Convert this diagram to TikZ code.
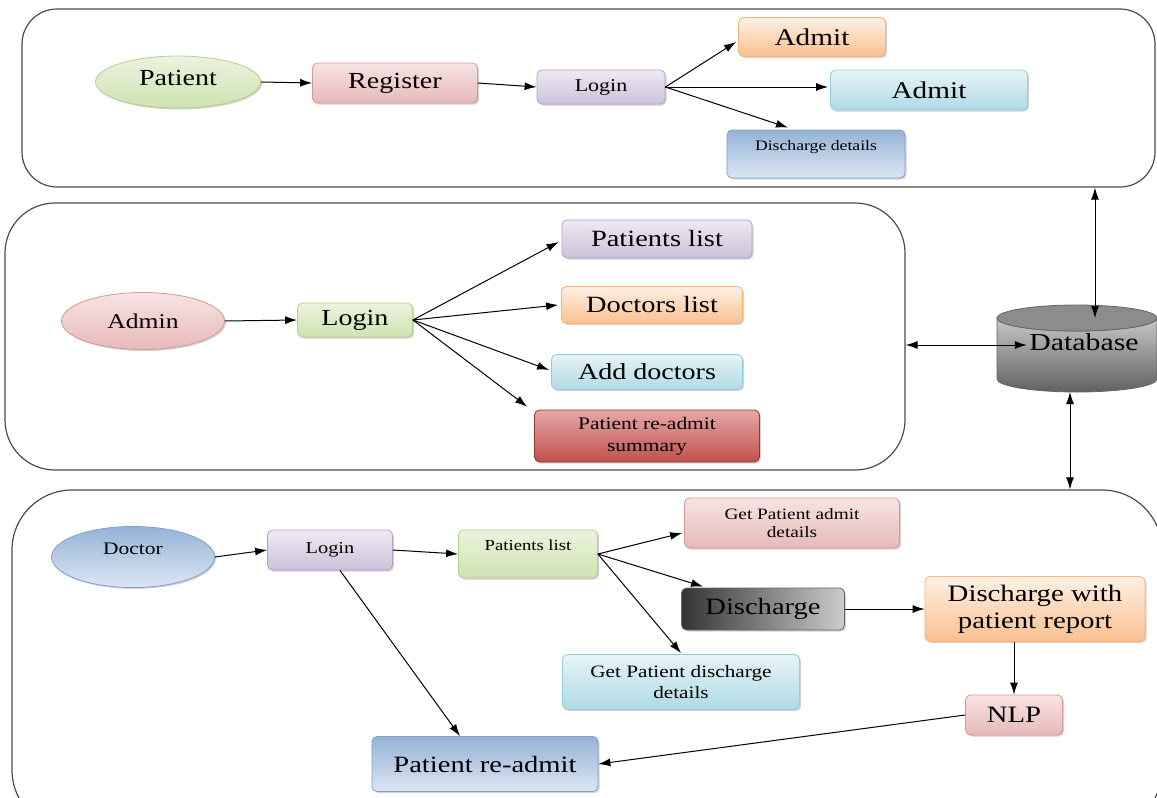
\documentclass[tikz,border=0pt]{standalone}
\usepackage{fontspec}
\setmainfont{Liberation Serif}[FakeStretch=1.22]
\usetikzlibrary{shapes.geometric,arrows.meta,shadows,calc}
\newcommand\fsz[2]{\fontsize{#1}{#2}\selectfont}
\definecolor{grnA}{HTML}{EBF3DF}\definecolor{grnB}{HTML}{CFE3B0}\definecolor{grnD}{HTML}{B5D08A}
\definecolor{pnkA}{HTML}{F7E4E3}\definecolor{pnkB}{HTML}{E6B9B8}\definecolor{pnkD}{HTML}{D99694}
\definecolor{purA}{HTML}{EEEAF3}\definecolor{purB}{HTML}{CCC1DA}\definecolor{purD}{HTML}{B3A2C7}
\definecolor{orgA}{HTML}{FEF0E4}\definecolor{orgB}{HTML}{FAC090}\definecolor{orgD}{HTML}{F9B27A}
\definecolor{cyaA}{HTML}{E6F4F7}\definecolor{cyaB}{HTML}{B0DAE5}\definecolor{cyaD}{HTML}{93CDDD}
\definecolor{bluA}{HTML}{DCE6F2}\definecolor{bluB}{HTML}{95B3D7}\definecolor{bluD}{HTML}{7F9FCF}
\definecolor{redA}{HTML}{E6A8A6}\definecolor{redB}{HTML}{C0504D}\definecolor{redD}{HTML}{943634}
\begin{document}
\begin{tikzpicture}[x=1pt,y=-1pt,
  container/.style={draw=black!70, line width=1.2pt, rounded corners=#1, inner sep=0pt},
  box/.style={rectangle, rounded corners=5pt, line width=0.8pt, align=center, inner sep=2pt,
    drop shadow={shadow xshift=1.5pt, shadow yshift=-1.5pt, opacity=0.35}},
  oval/.style={ellipse, line width=0.8pt, align=center, inner sep=0pt,
    drop shadow={shadow xshift=1.5pt, shadow yshift=-1.5pt, opacity=0.35}},
  green/.style={draw=grnD, top color=grnA, bottom color=grnB},
  pink/.style={draw=pnkD, top color=pnkA, bottom color=pnkB},
  purple/.style={draw=purD, top color=purA, bottom color=purB},
  orange/.style={draw=orgD, top color=orgA, bottom color=orgB},
  cyan/.style={draw=cyaD, top color=cyaA, bottom color=cyaB},
  blue/.style={draw=bluD, top color=bluB, bottom color=bluA},
  arr/.style={-{Latex[length=12pt,width=8pt]}, line width=1pt},
  darr/.style={{Latex[length=12pt,width=8pt]}-{Latex[length=12pt,width=8pt]}, line width=1pt}]
\useasboundingbox (0,0) rectangle (1157,798);

% containers
\node[container=35pt, minimum width=1133pt, minimum height=178pt] (topbox) at (588.5,98) {};
\node[container=50pt, minimum width=900pt, minimum height=267pt] (midbox) at (455,336.5) {};
\node[container=60pt, minimum width=1150pt, minimum height=340pt] (botbox) at (587,660) {};

% top row
\node[oval, green, minimum width=165pt, minimum height=52pt, text height=16pt, text depth=9pt, font=\fsz{23}{25}] (patient) at (178,82) {Patient};
\node[box, pink, minimum width=165pt, minimum height=40pt, font=\fsz{23}{25}] (register) at (395,83) {Register};
\node[box, purple, minimum width=128pt, minimum height=34pt, font=\fsz{18}{20}] (login1) at (601,87) {Login};
\node[box, orange, minimum width=147pt, minimum height=39pt, font=\fsz{24}{26}] (admit1) at (812,37) {Admit};
\node[box, cyan, minimum width=197pt, minimum height=40pt, font=\fsz{24}{26}] (admit2) at (929,90) {Admit};
\node[box, blue, minimum width=178pt, minimum height=48pt, text height=11pt, text depth=19pt, font=\fsz{14.5}{16}] (disch) at (816,154) {Discharge details};

% middle row
\node[oval, pink, minimum width=163pt, minimum height=57pt, font=\fsz{21}{23}] (admin) at (143,321) {Admin};
\node[box, green, minimum width=115pt, minimum height=34pt, font=\fsz{23}{25}] (login2) at (355,320) {Login};
\node[box, purple, minimum width=190pt, minimum height=38pt, font=\fsz{23.3}{25}] (plist) at (657,239) {Patients list};
\node[box, orange, minimum width=181pt, minimum height=37pt, font=\fsz{23.3}{25}] (dlist) at (652,305) {Doctors list};
\node[box, cyan, minimum width=191pt, minimum height=35pt, font=\fsz{23}{25}] (adddoc) at (647,372) {Add doctors};
\node[box, draw=redD, top color=redA, bottom color=redB, minimum width=225pt, minimum height=52pt, font=\fsz{17.6}{22}] (summary) at (647,436) {Patient re-admit\\summary};

% database (cylinder drawn directly, label node on top)
\shade[top color=black!22, bottom color=black!62, draw=black!60, line width=0.8pt]
  (997,318) -- (997,379) arc[start angle=180, end angle=0, x radius=80, y radius=13] -- (1157,318) arc[start angle=0, end angle=180, x radius=80, y radius=13] -- cycle;
\draw[black!60, line width=0.8pt, fill=black!45] (1077,318) ellipse [x radius=80, y radius=13];
\node[minimum width=110pt, minimum height=40pt, inner sep=0pt, font=\fsz{24.4}{26}] (db) at (1084,342) {Database};

% bottom row
\node[oval, blue, minimum width=163pt, minimum height=61pt, text height=13pt, text depth=19pt, font=\fsz{17.6}{19}] (doctor) at (133,557) {Doctor};
\node[box, purple, minimum width=125pt, minimum height=40pt, font=\fsz{16.7}{18}] (login3) at (330,550) {Login};
\node[box, green, minimum width=139pt, minimum height=48pt, text height=11pt, text depth=19pt, font=\fsz{15.3}{17}] (plist3) at (528,554) {Patients list};
\node[box, pink, minimum width=215pt, minimum height=50pt, font=\fsz{15.8}{18}] (getadmit) at (792,523) {Get Patient admit\\details};
\node[box, draw=black!60, left color=black!80, right color=black!20, minimum width=163pt, minimum height=42pt, font=\fsz{23.4}{25}] (discharge) at (763,609) {Discharge};
\node[box, orange, minimum width=220pt, minimum height=65pt, font=\fsz{23.6}{27}] (dwpr) at (1035,609) {Discharge with\\patient report};
\node[box, cyan, minimum width=237pt, minimum height=55pt, font=\fsz{17.4}{21}] (getdisch) at (681,682) {Get Patient discharge\\details};
\node[box, pink, minimum width=97pt, minimum height=40pt, font=\fsz{23.5}{25}] (nlp) at (1014,715) {NLP};
\node[box, blue, minimum width=226pt, minimum height=55pt, font=\fsz{23.4}{25}] (readmit) at (485,764) {Patient re-admit};

% connectors top
\draw[arr] (patient.east) -- (register.west);
\draw[arr] (register.east) -- (login1.west);
\draw[arr] (login1.east) -- ($(admit1.west)+(-2,5)$);
\draw[arr] (login1.east) -- ($(admit2.west |- login1.east)+(-2,0)$);
\draw[arr] (login1.east) -- ($(disch.north)+(-28,-2)$);

% connectors middle
\draw[arr] (admin.east) -- (login2.west);
\draw[arr] (login2.east) -- ($(plist.west)+(-3,3)$);
\draw[arr] (login2.east) -- ($(dlist.west)+(-3,0)$);
\draw[arr] (login2.east) -- ($(adddoc.west)+(-2,-2)$);
\draw[arr] (login2.east) -- ($(summary.north west)+(-7,-3)$);

% database links
\coordinate (dbleft) at ($(db.west)+(-2,3)$);
\coordinate (dbtop) at (1095,318);
\coordinate (dbbot) at (1070,392);
\draw[darr] (midbox.east |- dbleft) -- (dbleft);
\draw[darr] (topbox.south -| dbtop) -- (dbtop);
\draw[darr] (dbbot) -- (botbox.north -| dbbot);

% connectors bottom
\draw[arr] (doctor.east) -- (login3.west);
\draw[arr] (login3.east) -- (plist3.west);
\draw[arr] ($(login3.south)+(10,0)$) -- ($(readmit.north)+(-25,0)$);
\draw[arr] (plist3.east) -- ($(getadmit.west)+(-2,10)$);
\draw[arr] (plist3.east) -- ($(discharge.north west)+(22,-1)$);
\draw[arr] (plist3.east) -- ($(getdisch.north)+(0,-1)$);
\draw[arr] (discharge.east) -- (dwpr.west);
\draw[arr] (dwpr.south -| nlp.north) -- (nlp.north);
\draw[arr] (nlp.west) -- (readmit.east);
\end{tikzpicture}
\end{document}
